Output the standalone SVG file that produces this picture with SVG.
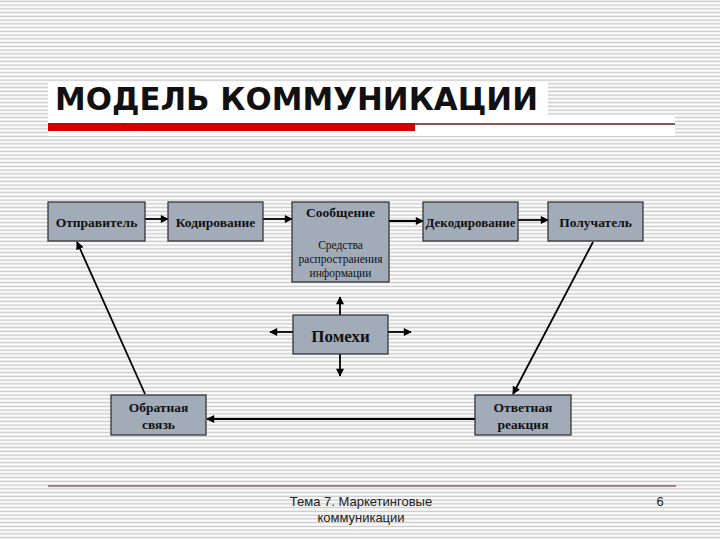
<svg xmlns="http://www.w3.org/2000/svg" width="720" height="540" viewBox="0 0 720 540">
  <defs>
    <pattern id="lines" x="0" y="0" width="720" height="3.75" patternUnits="userSpaceOnUse">
      <rect x="0" y="0" width="720" height="3.75" fill="#ffffff"/>
      <rect x="0" y="0.6" width="720" height="1.5" fill="#cbcbcb"/>
    </pattern>
    <marker id="ah" viewBox="0 0 10 10" refX="9" refY="5" markerWidth="9" markerHeight="8" markerUnits="userSpaceOnUse" orient="auto">
      <path d="M0,0 L10,5 L0,10 Z" fill="#000"/>
    </marker>
  </defs>
  <style>
    .box { fill: #a2acb8; stroke: #2a2a2a; stroke-width: 1.2; }
    .lbl { font-family: "Liberation Serif", "Times New Roman", serif; font-weight: bold; font-size: 13.5px; fill: #111; text-anchor: middle; }
    .small { font-family: "Liberation Serif", "Times New Roman", serif; font-size: 11.5px; fill: #111; text-anchor: middle; }
    .conn { stroke: #000; stroke-width: 1.8; fill: none; marker-end: url(#ah); }
    .foot { font-family: "Liberation Sans", Arial, sans-serif; font-size: 13px; fill: #222; }
  </style>

  <rect x="0" y="0" width="720" height="540" fill="url(#lines)"/>

  <g id="title">
    <rect x="48" y="82" width="500" height="34" fill="#ffffff"/>
    <rect x="48" y="116" width="627" height="20" fill="#ffffff"/>
    <text x="55" y="110" font-family="'DejaVu Sans', Verdana, sans-serif" font-weight="bold" font-size="32" fill="#111" textLength="483" lengthAdjust="spacingAndGlyphs">МОДЕЛЬ КОММУНИКАЦИИ</text>
    <rect x="48" y="123" width="367" height="8" fill="#d40000"/>
    <line x1="415" y1="124" x2="675" y2="124" stroke="#6b1a1a" stroke-width="1.3"/>
  </g>

  <g id="connectors">
    <line class="conn" x1="145" y1="219" x2="168" y2="219"/>
    <line class="conn" x1="263" y1="219" x2="292" y2="219"/>
    <line class="conn" x1="389" y1="221" x2="423" y2="221"/>
    <line class="conn" x1="518" y1="220" x2="548" y2="220"/>
    <line class="conn" x1="593" y1="242" x2="513" y2="394"/>
    <line class="conn" x1="475" y1="419" x2="207" y2="419"/>
    <line class="conn" x1="145" y1="394" x2="77" y2="242"/>
    <line class="conn" x1="340" y1="315" x2="340" y2="297"/>
    <line class="conn" x1="340" y1="354" x2="340" y2="376"/>
    <line class="conn" x1="293" y1="332" x2="270" y2="332"/>
    <line class="conn" x1="388" y1="332" x2="411" y2="332"/>
  </g>

  <g id="sender">
    <rect class="box" x="48" y="202" width="97" height="39"/>
    <text class="lbl" x="96.5" y="227">Отправитель</text>
  </g>
  <g id="encoding">
    <rect class="box" x="168" y="202" width="95" height="39"/>
    <text class="lbl" x="215.5" y="227">Кодирование</text>
  </g>
  <g id="message">
    <rect class="box" x="292" y="202" width="97" height="80"/>
    <text class="lbl" x="340.5" y="217">Сообщение</text>
    <text class="small" x="340.5" y="249">Средства</text>
    <text class="small" x="340.5" y="263">распространения</text>
    <text class="small" x="340.5" y="277">информации</text>
  </g>
  <g id="decoding">
    <rect class="box" x="423" y="202" width="95" height="39"/>
    <text class="lbl" x="470.5" y="227" textLength="90" lengthAdjust="spacingAndGlyphs">Декодирование</text>
  </g>
  <g id="receiver">
    <rect class="box" x="548" y="202" width="95" height="39"/>
    <text class="lbl" x="595.5" y="227">Получатель</text>
  </g>
  <g id="noise">
    <rect class="box" x="293" y="315" width="95" height="39"/>
    <text class="lbl" x="340.5" y="342" style="font-size:17px">Помехи</text>
  </g>
  <g id="feedback">
    <rect class="box" x="111" y="395" width="95" height="40"/>
    <text class="lbl" x="158.5" y="412">Обратная</text>
    <text class="lbl" x="158.5" y="429">связь</text>
  </g>
  <g id="response">
    <rect class="box" x="475" y="395" width="96" height="40"/>
    <text class="lbl" x="523" y="412">Ответная</text>
    <text class="lbl" x="523" y="429">реакция</text>
  </g>

  <g id="footer">
    <line x1="48" y1="486" x2="676" y2="486" stroke="#6b1a1a" stroke-width="1.2"/>
    <text class="foot" x="361" y="506" text-anchor="middle">Тема 7. Маркетинговые</text>
    <text class="foot" x="361" y="522" text-anchor="middle">коммуникации</text>
    <text class="foot" x="660" y="506" text-anchor="middle">6</text>
  </g>
</svg>
